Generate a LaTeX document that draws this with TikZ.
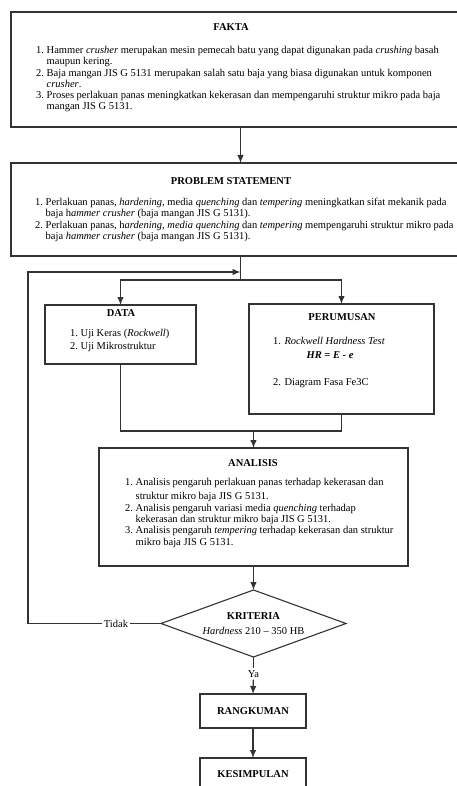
\documentclass[tikz,border=0pt]{standalone}
\usepackage{fontspec}
\setmainfont{Liberation Serif}
\usetikzlibrary{shapes.geometric,arrows.meta}

\begin{document}
\begin{tikzpicture}[x=1pt,y=-1pt,
    every node/.style={font=\fontsize{10.5}{11.3}\selectfont},
    box/.style={draw=black!80,line width=1.1pt,anchor=north west,outer sep=0pt,inner sep=0pt},
    smallbox/.style={draw=black!80,line width=1.1pt,minimum width=106pt,minimum height=34pt,outer sep=0pt,inner sep=0pt,font=\fontsize{10.5}{11.3}\selectfont\bfseries},
    title/.style={font=\fontsize{10.5}{11.3}\selectfont\bfseries},
    items/.style={anchor=base west,inner sep=0pt},
    link/.style={draw=black!80,line width=1.2pt},
    arrowlink/.style={link,-{Latex[length=8pt,width=6.5pt]}}]

    \useasboundingbox (0,0) rectangle (457,786);

    % boxes
    \node[box,minimum width=451pt,minimum height=115pt] (fakta) at (11,12) {};
    \node[box,minimum width=451pt,minimum height=93pt] (ps) at (11,163) {};
    \node[box,minimum width=151pt,minimum height=59pt] (data) at (45,305) {};
    \node[box,minimum width=185pt,minimum height=110pt] (perumusan) at (249,304) {};
    \node[box,minimum width=309pt,minimum height=118pt] (analisis) at (99,448) {};
    \node[draw=black!80,line width=1.1pt,diamond,aspect=2.76,minimum width=185pt,minimum height=67pt,
        inner sep=0pt,outer sep=0pt,align=center] (kriteria) at (253.5,623.5)
        {\textbf{KRITERIA}\\[3pt]\textit{Hardness} 210 -- 350 HB};
    \node[smallbox] (rangkuman) at (253,711) {RANGKUMAN};
    \node[smallbox,minimum height=32pt] (kesimpulan) at (253,774) {KESIMPULAN};

    % fakta
    \node[title] (faktatitle) at (231,27) {FAKTA};
    \node[items] (faktalist) at (36,53.5) {\begin{tabular}[t]{@{}r@{~}l@{}}
        1. & Hammer \textit{crusher} merupakan mesin pemecah batu yang dapat digunakan pada \textit{crushing} basah\\
           & maupun kering.\\
        2. & Baja mangan JIS G 5131 merupakan salah satu baja yang biasa digunakan untuk komponen\\
           & \textit{crusher}.\\
        3. & Proses perlakuan panas meningkatkan kekerasan dan mempengaruhi struktur mikro pada baja\\
           & mangan JIS G 5131.
        \end{tabular}};

    % problem statement
    \node[title] (pstitle) at (231,181) {PROBLEM STATEMENT};
    \node[items] (pslist) at (35,205.5) {\begin{tabular}[t]{@{}r@{~}l@{}}
        1. & Perlakuan panas, \textit{hardening}, media \textit{quenching} dan \textit{tempering} meningkatkan sifat mekanik pada\\
           & baja h\textit{ammer crusher} (baja mangan JIS G 5131).\\
        2. & Perlakuan panas, h\textit{ardening, media quenching} dan \textit{tempering} mempengaruhi struktur mikro pada\\
           & baja \textit{hammer crusher} (baja mangan JIS G 5131).
        \end{tabular}};

    % data
    \node[title] (datatitle) at (121,313) {DATA};
    \node[items] (datalist) at (70,336.5) {\begin{tabular}[t]{@{}r@{~}l@{}}
        1. & Uji Keras (\textit{Rockwell})\\[2pt]
        2. & Uji Mikrostruktur
        \end{tabular}};

    % perumusan
    \node[title] (perumusantitle) at (342,317) {PERUMUSAN};
    \node[items] (rockwell) at (273,344.5) {1. \textit{Rockwell Hardness Test}};
    \node (rumus) at (330,355) {\textbf{\textit{HR = E - e}}};
    \node[items] (fasa) at (273,385.5) {2. Diagram Fasa Fe3C};

    % analisis
    \node[title] (analisistitle) at (253,463) {ANALISIS};
    \node[items] (analisislist) at (125,485.5) {\begin{tabular}[t]{@{}r@{~}l@{}}
        1. & Analisis pengaruh perlakuan panas terhadap kekerasan dan\\[3pt]
           & struktur mikro baja JIS G 5131.\\
        2. & Analisis pengaruh variasi media \textit{quenching} terhadap\\
           & kekerasan dan struktur mikro baja JIS G 5131.\\
        3. & Analisis pengaruh \textit{tempering} terhadap kekerasan dan struktur\\
           & mikro baja JIS G 5131.
        \end{tabular}};

    % labels on the lines
    \node[fill=white,inner sep=2pt] (tidak) at (116,623.5) {Tidak};
    \node[fill=white,inner sep=2pt] (ya) at (253.5,674) {Ya};

    % helper points
    \coordinate (axis) at (240.5,0);
    \coordinate (join) at (240.5,272);
    \coordinate (split) at (240.5,280);
    \coordinate (merge) at (253.5,431);
    \coordinate (loop) at (28,272);

    % connectors
    \draw[arrowlink] (fakta.south -| axis) -- (ps.north -| axis);
    \draw[link] (ps.south -| axis) -- (split);
    \draw[arrowlink] (split) -| (data.north);
    \draw[arrowlink] (split) -| (perumusan.north);
    \draw[link] (data.south) |- (merge) -| (perumusan.south);
    \draw[arrowlink] (merge) -- (analisis.north);
    \draw[arrowlink] (analisis.south) -- (kriteria.north);
    \draw[link] (kriteria.west) -- (tidak);
    \draw[arrowlink] (tidak) -| (loop) -- (join);
    \draw[link] (kriteria.south) -- (ya);
    \draw[arrowlink] (ya) -- (rangkuman.north);
    \draw[arrowlink] (rangkuman.south) -- (kesimpulan.north);
\end{tikzpicture}
\end{document}
